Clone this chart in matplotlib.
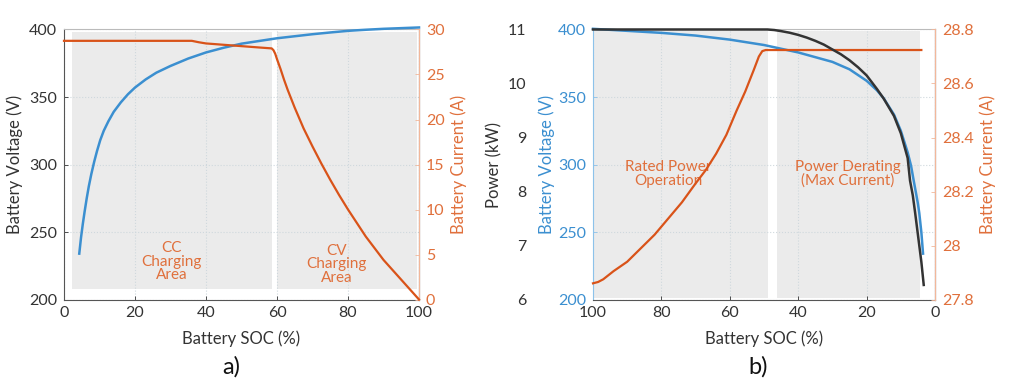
import matplotlib
matplotlib.use("Agg")
import matplotlib.pyplot as plt
from matplotlib.ticker import FuncFormatter

plt.rcParams["font.family"] = ["Lato", "DejaVu Sans"]
plt.rcParams["font.size"] = 11

BLUE = "#3b8fd0"
ORANGE = "#d95319"
ORANGE_TXT = "#e0703c"
ORANGE_SPINE = "#f2b79a"
BLUE_SPINE = "#8cc2ea"
DARK = "#333333"
SHADE = "#ebebeb"

# ---- panel a) charging ----
soc_volt_a = [4.3, 4.8, 5.3, 5.8, 6.4, 7, 7.7, 8.5, 9.3, 10.2, 11.2, 12.5, 14,
              16, 18, 20, 23, 26, 30, 35, 40, 45, 50, 55, 60, 65, 70, 75, 80,
              85, 90, 95, 100]
volt_a = [234, 246, 256, 265, 275, 284, 293, 302, 310, 318, 325, 332, 339,
          346, 352, 357, 363, 368, 373, 378.5, 383, 386.5, 389.5, 391.5, 393.5,
          395, 396.5, 397.8, 399, 399.8, 400.5, 401, 401.5]
soc_cur_a = [0, 36, 38, 40, 45, 50, 55, 58.5, 59, 59.5, 60, 61, 62, 63, 65,
             67.5, 70, 72.5, 75, 77.5, 80, 82.5, 85, 87.5, 90, 92.5, 95, 97.5,
             100]
cur_a = [28.74, 28.74, 28.58, 28.45, 28.3, 28.15, 28.0, 27.9, 27.7, 27.3, 26.7,
         25.6, 24.4, 23.3, 21.3, 19.0, 17.0, 15.1, 13.3, 11.6, 10.0, 8.5, 7.0,
         5.7, 4.4, 3.3, 2.2, 1.1, 0]
areas_a = [(2.3, 58.6), (60.0, 99.4)]
area_v_a = (208, 398)

# ---- panel b) discharging ----
soc_volt_b = [100, 90, 80, 70, 60, 50, 40, 30, 25, 20, 17, 15, 12, 10, 8, 7,
              6.3, 5.5, 5, 4.6, 4, 3.5]
volt_b = [400.5, 399, 397.5, 395.5, 392.5, 388.5, 383, 376, 370.5, 362, 355,
          349, 337, 325, 309, 299, 289, 278, 271, 264, 250, 234]
soc_pow_b = [100, 49, 47, 45, 42.5, 40, 37.5, 35, 32.5, 30, 27.5, 25, 22.5, 20,
             17, 15, 12, 10, 8, 7.3, 6.5, 5.8, 5, 4, 3.3]
power_b = [11.0, 11.0, 10.99, 10.97, 10.94, 10.9, 10.85, 10.79, 10.72, 10.63,
           10.54, 10.43, 10.3, 10.15, 9.9, 9.72, 9.4, 9.08, 8.62, 8.2, 7.93,
           7.6, 7.2, 6.7, 6.27]
soc_cur_b = [100, 98.5, 97, 94, 90, 86, 82, 78, 74, 70, 67, 64, 61, 58, 55.5,
             53, 51.5, 50.5, 49.5, 4]
cur_b = [27.86, 27.865, 27.875, 27.905, 27.94, 27.99, 28.04, 28.10, 28.16,
         28.23, 28.28, 28.34, 28.41, 28.5, 28.57, 28.65, 28.70, 28.72, 28.724,
         28.724]
areas_b = [(99.6, 48.7), (46.3, 4.4)]
area_v_b = (201.5, 399)

fmt_g = FuncFormatter(lambda v, p: f"{v:g}")


def style_base(ax, left_color, left_spine):
    ax.set_facecolor("white")
    ax.grid(True, color="#cfd8dd", linestyle=":", linewidth=0.8)
    ax.tick_params(direction="in", length=3, width=0.6, colors=DARK,
                   labelsize=11.5, pad=5)
    ax.tick_params(axis="y", colors=left_color)
    ax.spines["left"].set_color(left_spine)
    ax.spines["bottom"].set_color("#555555")
    ax.spines["top"].set_color("#bbbbbb")
    for s in ax.spines.values():
        s.set_linewidth(0.8)


def style_right(axr):
    axr.tick_params(direction="in", length=3, width=0.6, colors=ORANGE_SPINE,
                    labelcolor=ORANGE_TXT, labelsize=11.5, pad=5)
    axr.spines["right"].set_color(ORANGE_SPINE)
    axr.spines["right"].set_linewidth(0.8)
    for k in ("left", "top", "bottom"):
        axr.spines[k].set_visible(False)


fig = plt.figure(figsize=(10.24, 3.85), dpi=100)

# ------------- a) -------------
ax1 = fig.add_axes([0.0625, 0.222, 0.3467, 0.7014])
style_base(ax1, DARK, "#555555")
for x0, x1 in areas_a:
    ax1.fill_between([x0, x1], area_v_a[0], area_v_a[1], color=SHADE,
                     linewidth=0, zorder=1)
ax1.plot(soc_volt_a, volt_a, color=BLUE, lw=1.8, clip_on=False, zorder=3)
ax1.set_xlim(0, 100)
ax1.set_ylim(200, 400)
ax1.set_xticks([0, 20, 40, 60, 80, 100])
ax1.set_yticks([200, 250, 300, 350, 400])
ax1.set_xlabel("Battery SOC (%)", color=DARK, fontsize=12, labelpad=7)
ax1.set_ylabel("Battery Voltage (V)", color=DARK, fontsize=12, labelpad=4)

ax1r = ax1.twinx()
style_right(ax1r)
ax1r.plot(soc_cur_a, cur_a, color=ORANGE, lw=1.6, clip_on=False, zorder=3)
ax1r.set_ylim(0, 30)
ax1r.set_yticks([0, 5, 10, 15, 20, 25, 30])
ax1r.set_ylabel("Battery Current (A)", color=ORANGE_TXT, fontsize=12,
                labelpad=4)

ax1.text(30.3, 228, "CC\nCharging\nArea", color=ORANGE_TXT, fontsize=11,
         ha="center", va="center", linespacing=0.95, zorder=4)
ax1.text(76.7, 226, "CV\nCharging\nArea", color=ORANGE_TXT, fontsize=11,
         ha="center", va="center", linespacing=0.95, zorder=4)
fig.text(0.226, 0.047, "a)", fontsize=17, color="#111111", ha="center",
         va="center")

# ------------- b) -------------
ax2 = fig.add_axes([0.5791, 0.222, 0.334, 0.7014])
style_base(ax2, BLUE, BLUE_SPINE)
ax2.tick_params(axis="y", colors=BLUE_SPINE, labelcolor=BLUE)
for x0, x1 in areas_b:
    ax2.fill_between([x0, x1], area_v_b[0], area_v_b[1], color=SHADE,
                     linewidth=0, zorder=1)
ax2.plot(soc_volt_b, volt_b, color=BLUE, lw=1.8, clip_on=False, zorder=3)
ax2.set_xlim(100, 0)
ax2.set_ylim(200, 400)
ax2.set_xticks([100, 80, 60, 40, 20, 0])
ax2.set_yticks([200, 250, 300, 350, 400])
ax2.set_xlabel("Battery SOC (%)", color=DARK, fontsize=12, labelpad=7)
ax2.set_ylabel("Battery Voltage (V)", color=BLUE, fontsize=12, labelpad=2)

ax2r = ax2.twinx()
style_right(ax2r)
ax2r.plot(soc_cur_b, cur_b, color=ORANGE, lw=1.6, clip_on=False, zorder=3)
ax2r.set_ylim(27.8, 28.8)
ax2r.set_yticks([27.8, 28.0, 28.2, 28.4, 28.6, 28.8])
ax2r.yaxis.set_major_formatter(fmt_g)
ax2r.set_ylabel("Battery Current (A)", color=ORANGE_TXT, fontsize=12,
                labelpad=4)

ax2p = ax2.twinx()
for k in ("left", "right", "top", "bottom"):
    ax2p.spines[k].set_visible(False)
ax2p.yaxis.set_ticks_position("left")
ax2p.yaxis.set_label_position("left")
ax2p.spines["left"].set_position(("outward", 43))
ax2p.plot(soc_pow_b, power_b, color=DARK, lw=1.8, clip_on=False, zorder=3)
ax2p.set_ylim(6, 11)
ax2p.set_yticks([6, 7, 8, 9, 10, 11])
ax2p.tick_params(axis="y", length=0, labelcolor=DARK, labelsize=11.5, pad=5)
ax2p.set_ylabel("Power (kW)", color=DARK, fontsize=12, labelpad=4)

ax2.text(78, 293, "Rated Power\nOperation", color=ORANGE_TXT, fontsize=11,
         ha="center", va="center", linespacing=0.95, zorder=4)
ax2.text(25.4, 293, "Power Derating\n(Max Current)", color=ORANGE_TXT,
         fontsize=11, ha="center", va="center", linespacing=0.95, zorder=4)
fig.text(0.74, 0.047, "b)", fontsize=17, color="#111111", ha="center",
         va="center")

fig.savefig("out.png", dpi=100)
